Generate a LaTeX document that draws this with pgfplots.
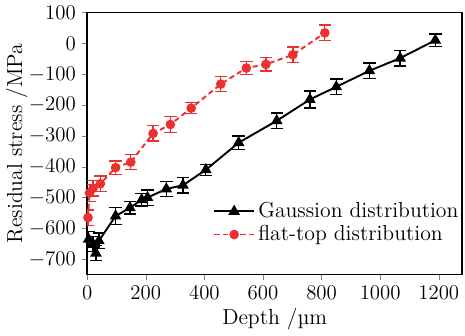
\documentclass[border=0pt]{standalone}
\usepackage{pgfplots}
\pgfplotsset{compat=1.18}
\usepackage{fontspec}
\definecolor{myred}{RGB}{236,48,48}
\begin{document}
\begin{tikzpicture}[font=\fontsize{12.5}{15}\selectfont]
\begin{axis}[
  scale only axis,
  width=216pt, height=151pt,
  xmin=0, xmax=1280, ymin=-750, ymax=100,
  xtick={0,200,...,1200}, ytick={-700,-600,...,100},
  /pgf/number format/1000 sep={},
  tick label style={font=\fontsize{12.5}{15}\selectfont},
  label style={font=\fontsize{12.5}{15}\selectfont},
  tick pos=left, tick align=outside,
  major tick length=3pt,
  axis line style={line width=0.9pt},
  xlabel={Depth /µm}, ylabel={Residual stress /MPa},
  xlabel style={yshift=2pt}, ylabel style={yshift=-6pt},
  legend style={draw=none, fill=none, at={(1.0,0.29)}, anchor=north east, inner sep=0pt, row sep=-1pt, font=\fontsize{12.5}{15}\selectfont},
  legend cell align=left,
  legend image code/.code={\draw[mark repeat=2,mark phase=2] plot coordinates {(0cm,0cm)(0.4cm,0cm)(0.8cm,0cm)};},
  every axis plot/.append style={error bars/y dir=both, error bars/y explicit},
]
\addplot[black, line width=1.1pt, mark=triangle*, mark size=2.8pt,
  error bars/error bar style={line width=0.75pt}, error bars/error mark options={rotate=90, mark size=3.6pt, line width=0.75pt}]
table[x=x, y=y, y error=e] {
x y e
5 -635 25
20 -650 25
30 -680 25
40 -640 25
97 -560 28
146 -533 20
186 -507 20
206 -500 25
270 -472 25
327 -460 25
405 -410 18
517 -322 22
647 -251 25
760 -182 28
850 -141 25
963 -89 25
1068 -48 25
1188 10 20
};
\addlegendentry{Gaussion distribution}
\addplot[myred, line width=1.1pt, densely dashed, mark=*, mark size=2.2pt, mark options={solid},
  error bars/error bar style={line width=0.75pt, solid}, error bars/error mark options={rotate=90, mark size=3.6pt, line width=0.75pt, solid}]
table[x=x, y=y, y error=e] {
x y e
3 -565 25
8 -485 28
20 -470 25
45 -455 25
97 -403 22
149 -385 25
225 -292 25
284 -263 25
355 -210 18
456 -132 25
543 -80 22
610 -68 22
702 -37 25
811 34 25
};
\addlegendentry{flat-top distribution}
\end{axis}
\end{tikzpicture}
\end{document}
